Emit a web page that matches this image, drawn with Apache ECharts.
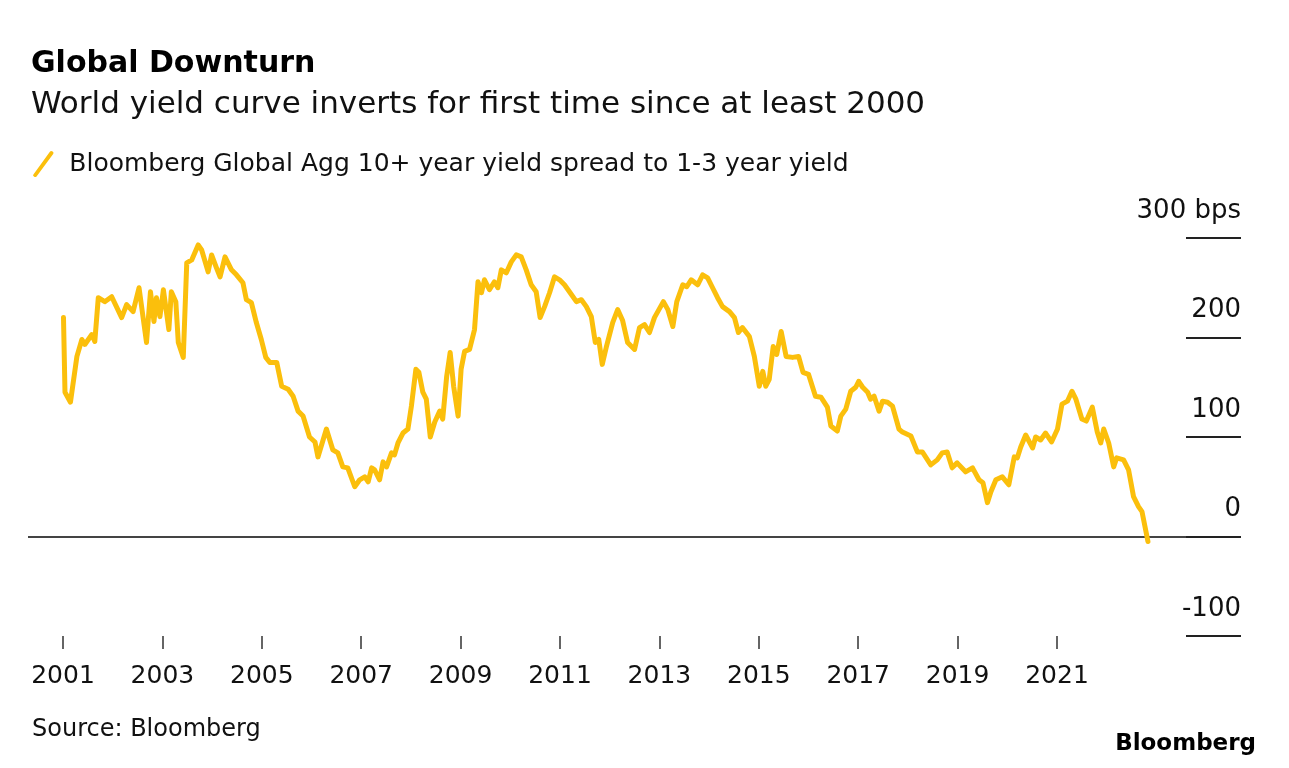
<!DOCTYPE html>
<html>
<head>
<meta charset="utf-8">
<script src="https://cdn.jsdelivr.net/npm/echarts@6/dist/echarts.min.js"></script>
<style>
	html, body { margin: 0; padding: 0; background: #fff; }
	#chart { width: 1289px; height: 768px; }
</style>
</head>
<body>
<div id="chart"></div>
<script>
// decimal year of each reading
let years = [
	2001.01, 2001.04, 2001.15, 2001.28, 2001.38, 2001.44, 2001.58, 2001.64, 2001.71, 2001.84,
	2001.98, 2002.18, 2002.28, 2002.41, 2002.53, 2002.68, 2002.76, 2002.83, 2002.88, 2002.95,
	2003.02, 2003.13, 2003.18, 2003.27, 2003.32, 2003.42, 2003.49, 2003.59, 2003.72, 2003.79,
	2003.92, 2003.99, 2004.08, 2004.16, 2004.26, 2004.39, 2004.49, 2004.62, 2004.69, 2004.79,
	2004.89, 2004.99, 2005.08, 2005.16, 2005.30, 2005.40, 2005.53, 2005.63, 2005.73, 2005.83,
	2005.96, 2006.07, 2006.13, 2006.30, 2006.43, 2006.53, 2006.63, 2006.73, 2006.87, 2006.97,
	2007.07, 2007.14, 2007.21, 2007.27, 2007.37, 2007.44, 2007.51, 2007.61, 2007.67, 2007.74,
	2007.84, 2007.94, 2008.01, 2008.10, 2008.16, 2008.24, 2008.31, 2008.39, 2008.48, 2008.58,
	2008.64, 2008.72, 2008.79, 2008.86, 2008.95, 2009.01, 2009.08, 2009.18, 2009.28, 2009.35,
	2009.42, 2009.48, 2009.58, 2009.68, 2009.75, 2009.82, 2009.92, 2010.02, 2010.12, 2010.22,
	2010.32, 2010.42, 2010.52, 2010.60, 2010.69, 2010.79, 2010.89, 2010.99, 2011.09, 2011.19,
	2011.33, 2011.43, 2011.53, 2011.63, 2011.71, 2011.78, 2011.85, 2011.93, 2012.06, 2012.16,
	2012.26, 2012.36, 2012.50, 2012.60, 2012.70, 2012.80, 2012.90, 2012.99, 2013.08, 2013.17,
	2013.27, 2013.35, 2013.47, 2013.55, 2013.64, 2013.77, 2013.87, 2013.97, 2014.07, 2014.17,
	2014.27, 2014.41, 2014.51, 2014.59, 2014.67, 2014.81, 2014.91, 2015.01, 2015.08, 2015.14,
	2015.21, 2015.29, 2015.36, 2015.45, 2015.55, 2015.68, 2015.80, 2015.89, 2016.00, 2016.14,
	2016.25, 2016.38, 2016.45, 2016.58, 2016.65, 2016.75, 2016.85, 2016.95, 2017.01, 2017.09,
	2017.19, 2017.25, 2017.32, 2017.42, 2017.49, 2017.59, 2017.69, 2017.82, 2017.89, 2018.06,
	2018.19, 2018.29, 2018.46, 2018.59, 2018.69, 2018.79, 2018.89, 2018.99, 2019.16, 2019.30,
	2019.43, 2019.51, 2019.60, 2019.67, 2019.77, 2019.90, 2020.03, 2020.14, 2020.20, 2020.27,
	2020.37, 2020.51, 2020.57, 2020.67, 2020.77, 2020.89, 2021.01, 2021.10, 2021.21, 2021.30,
	2021.38, 2021.50, 2021.59, 2021.71, 2021.81, 2021.88, 2021.94, 2022.04, 2022.14, 2022.20,
	2022.34, 2022.44, 2022.54, 2022.64, 2022.71, 2022.83
];
// spread, basis points
let spread = [
	220, 145, 135, 181, 198, 193, 203, 196, 240, 236,
	241, 220, 233, 226, 250, 195, 246, 216, 240, 221,
	248, 208, 246, 236, 195, 180, 275, 278, 293, 288,
	266, 283, 271, 261, 281, 268, 263, 255, 238, 235,
	215, 198, 180, 175, 175, 151, 148, 141, 126, 121,
	100, 95, 80, 108, 87, 84, 70, 69, 50, 57,
	60, 55, 69, 67, 57, 75, 70, 84, 82, 94,
	104, 108, 131, 168, 165, 145, 138, 100, 115, 126,
	118, 161, 185, 151, 121, 168, 186, 188, 208, 256,
	245, 258, 248, 256, 250, 268, 265, 276, 283, 281,
	268, 253, 246, 220, 231, 245, 261, 258, 253, 246,
	236, 238, 231, 221, 195, 198, 173, 190, 215, 228,
	217, 195, 188, 210, 213, 205, 220, 228, 236, 228,
	211, 236, 253, 251, 258, 253, 263, 260, 250, 240,
	231, 226, 220, 205, 210, 201, 181, 151, 166, 151,
	158, 191, 183, 206, 181, 180, 181, 165, 163, 141,
	140, 130, 111, 106, 121, 128, 146, 150, 156, 150,
	145, 138, 141, 126, 136, 135, 131, 108, 105, 101,
	85, 85, 72, 77, 84, 85, 69, 74, 65, 69,
	57, 54, 34, 45, 57, 60, 52, 80, 79, 90,
	102, 89, 100, 97, 104, 95, 108, 133, 136, 146,
	138, 118, 116, 130, 105, 94, 108, 94, 70, 79,
	77, 67, 40, 30, 25, -5
];
let tickYears = [2001, 2003, 2005, 2007, 2009, 2011, 2013, 2015, 2017, 2019, 2021];
let seriesName = 'Bloomberg Global Agg 10+ year yield spread to 1-3 year yield';

let lineColor = '#fbbf0c';
let font = 'DejaVu Sans';

let myChart = echarts.init(document.getElementById('chart'), null, { renderer: 'canvas' });
let points = years.map((y, i) => [y, spread[i]]);

option = {
	backgroundColor: '#fff',
	animation: false,
	title: [{
		text: 'Global Downturn',
		left: 26,
		top: 44,
		textStyle: { fontFamily: font, fontSize: 30, fontWeight: 'bold', color: '#000' }
	}, {
		text: 'World yield curve inverts for first time since at least 2000',
		left: 26,
		top: 84,
		textStyle: { fontFamily: font, fontSize: 31, fontWeight: 'normal', color: '#111' }
	}, {
		text: 'Source: Bloomberg',
		left: 27,
		top: 713,
		textStyle: { fontFamily: font, fontSize: 24, fontWeight: 'normal', color: '#111' }
	}, {
		text: 'Bloomberg',
		right: 28,
		top: 728,
		textStyle: { fontFamily: font, fontSize: 23, fontWeight: 'bold', color: '#000' }
	}],
	legend: {
		left: 28,
		top: 146,
		itemWidth: 22,
		itemHeight: 26,
		icon: 'path://M0,23 L16,1 Q17,0 18.5,1 Q20,2 19,3.5 L3,25 Q2,26 0.5,25 Q-1,24 0,23 Z',
		data: [seriesName],
		textStyle: { fontFamily: font, fontSize: 25, color: '#111', padding: [0, 0, 0, 10] }
	},
	grid: {
		left: 28,
		right: 48,
		top: 238,
		bottom: 132,
		containLabel: false
	},
	xAxis: {
		type: 'value',
		min: 2000.2958,
		max: 2024.702,
		axisLine: { show: false, onZero: false },
		splitLine: { show: false },
		axisTick: {
			show: true,
			length: 13,
			customValues: tickYears,
			lineStyle: { color: '#333', width: 1.5 }
		},
		axisLabel: {
			customValues: tickYears,
			margin: 28,
			fontFamily: font,
			fontSize: 25,
			color: '#111',
			formatter: (v) => String(v)
		}
	},
	yAxis: {
		type: 'value',
		position: 'right',
		min: -100,
		max: 300,
		interval: 100,
		axisLine: { show: false },
		axisTick: {
			show: true,
			inside: true,
			length: 55,
			lineStyle: { color: '#222', width: 2 }
		},
		splitLine: {
			show: true,
			lineStyle: {
				color: ['rgba(0,0,0,0)', '#444', 'rgba(0,0,0,0)', 'rgba(0,0,0,0)', 'rgba(0,0,0,0)'],
				width: 2
			}
		},
		axisLabel: {
			inside: true,
			margin: 0,
			fontFamily: font,
			fontSize: 26,
			color: '#111',
			verticalAlign: 'bottom',
			padding: [0, 0, 14, 0],
			formatter: (v) => (v === 300 ? '300 bps' : String(v))
		}
	},
	series: [{
		name: seriesName,
		type: 'line',
		data: points,
		showSymbol: false,
		color: lineColor,
		lineStyle: { color: lineColor, width: 5, join: 'round', cap: 'round' }
	}]
};
myChart.setOption(option);
window.onresize = myChart.resize;
</script>
</body>
</html>
